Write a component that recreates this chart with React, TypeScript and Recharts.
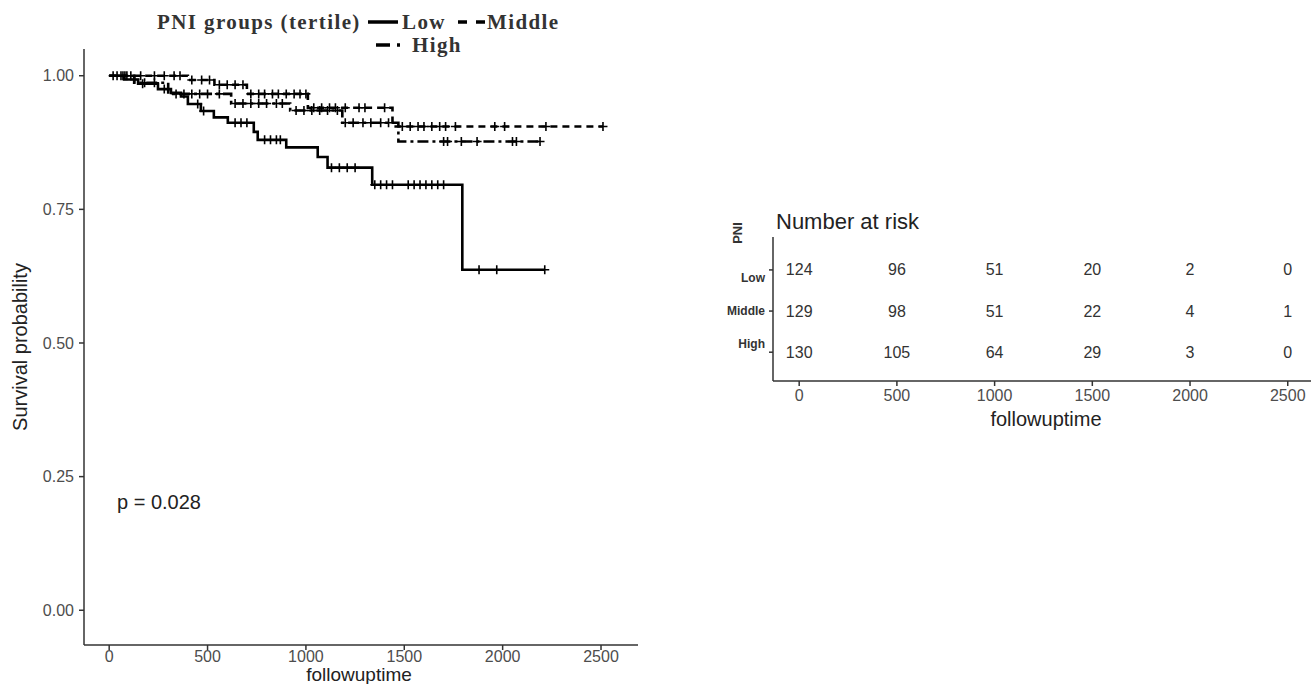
import * as React from "react";
import {ComposedChart, Line, Scatter, ScatterChart, XAxis, YAxis} from "recharts";

// Kaplan-Meier steps (time, survival)
const lowTimes = [0, 76, 147, 248, 314, 365, 400, 466, 532, 603, 735, 755, 900, 1060, 1110, 1337, 1795];
const lowSurv = [1, 0.993, 0.985, 0.975, 0.968, 0.961, 0.947, 0.934, 0.922, 0.912, 0.895, 0.88, 0.866, 0.848, 0.828, 0.796, 0.637];
const lowEnd = 2214;
const lowCensor = [60, 130, 170, 280, 450, 480, 640, 670, 700, 790, 820, 850, 870, 1130, 1170, 1210, 1250, 1350, 1380, 1410, 1440, 1520, 1550, 1580, 1610, 1640, 1670, 1700, 1880, 1970, 2214];

const middleTimes = [0, 400, 535, 700, 1010, 1440];
const middleSurv = [1, 0.992, 0.983, 0.966, 0.94, 0.905];
const middleEnd = 2510;
const middleCensor = [40, 80, 110, 160, 230, 280, 330, 360, 420, 470, 510, 560, 600, 640, 680, 720, 760, 790, 830, 860, 900, 940, 970, 1000, 1040, 1080, 1120, 1150, 1200, 1270, 1300, 1400, 1490, 1530, 1570, 1600, 1640, 1680, 1710, 1760, 1960, 2010, 2220, 2510];

const highTimes = [0, 127, 300, 620, 920, 1185, 1470];
const highSurv = [1, 0.987, 0.966, 0.948, 0.935, 0.912, 0.877];
const highEnd = 2190;
const highCensor = [20, 70, 90, 180, 230, 340, 380, 420, 460, 500, 560, 640, 680, 720, 760, 800, 850, 880, 950, 990, 1030, 1070, 1110, 1160, 1200, 1240, 1290, 1330, 1380, 1420, 1700, 1720, 1790, 1870, 2050, 2070, 2190];

const timeTicks = [0, 500, 1000, 1500, 2000, 2500];
const survTicks = [0, 0.25, 0.5, 0.75, 1];

// number at risk table
const groups = ["Low", "Middle", "High"];
const riskTimes = [0, 500, 1000, 1500, 2000, 2500];
const riskLow = [124, 96, 51, 20, 2, 0];
const riskMiddle = [129, 98, 51, 22, 4, 1];
const riskHigh = [130, 105, 64, 29, 3, 0];

const sans = "'Liberation Sans', Arial, sans-serif";
const serif = "'Liberation Serif', 'Times New Roman', serif";

function curve(times: number[], surv: number[], end: number) {
    const pts = times.map((t, i) => ({t, s: surv[i]}));
    pts.push({t: end, s: surv[surv.length - 1]});
    return pts;
}

function survAt(times: number[], surv: number[], t: number) {
    let s = surv[0];
    times.forEach((tt, i) => { if (tt <= t) s = surv[i]; });
    return s;
}

function marks(times: number[], surv: number[], censor: number[]) {
    return censor.map(t => ({t, s: survAt(times, surv, t)}));
}

const Plus = (props: any) => {
    const {cx, cy} = props;
    return <path d={`M${cx - 4.5},${cy}h9M${cx},${cy - 4.5}v9`} stroke="#000" strokeWidth={1.6} />;
};

const RiskText = (props: any) => {
    const {cx, cy, payload} = props;
    return <text x={cx} y={cy} textAnchor="middle" dominantBaseline="central" fontSize={16} fill="#333" fontFamily={sans}>{payload.n}</text>;
};

const GroupTick = (props: any) => {
    const {x, y, payload} = props;
    const name = groups[3 - payload.value];
    const dy = name === "Low" ? 8 : name === "High" ? -8 : 0;
    return <text x={x} y={y + dy} textAnchor="end" dominantBaseline="central" fontSize={12} fontWeight="bold" fill="#333" fontFamily="'Liberation Sans Narrow', 'Liberation Sans', sans-serif">{name}</text>;
};

export default function App() {
    const riskRows = [riskLow, riskMiddle, riskHigh];
    const riskData = riskRows.flatMap((row, g) => row.map((n, i) => ({t: riskTimes[i], row: 3 - g, n})));
    const axis = {stroke: "#333", strokeWidth: 1.5};
    const tick = {fill: "#4d4d4d", fontSize: 16, fontFamily: sans};

    return (
        <div style={{position: "absolute", left: 0, top: 0, width: 1311, height: 684, background: "#fff", overflow: "hidden"}}>
            <div style={{position: "absolute", left: 0, top: 0}}>
                <ComposedChart width={660} height={684} margin={{top: 49, right: 22, bottom: 0, left: 0}}>
                    <XAxis type="number" dataKey="t" domain={[-128, 2688]} ticks={timeTicks} allowDataOverflow
                           height={39} axisLine={axis} tickLine={axis} tickSize={5} tickMargin={1} tick={tick} />
                    <YAxis type="number" dataKey="s" domain={[-0.065, 1.05]} ticks={survTicks} allowDataOverflow
                           width={84} axisLine={axis} tickLine={axis} tickSize={5} tickMargin={5} tick={tick}
                           tickFormatter={(v: number) => v.toFixed(2)} />
                    <Line data={curve(lowTimes, lowSurv, lowEnd)} dataKey="s" type="stepAfter" stroke="#000" strokeWidth={2.6} dot={false} isAnimationActive={false} />
                    <Line data={curve(middleTimes, middleSurv, middleEnd)} dataKey="s" type="stepAfter" stroke="#000" strokeWidth={2.6} strokeDasharray="7 5" dot={false} isAnimationActive={false} />
                    <Line data={curve(highTimes, highSurv, highEnd)} dataKey="s" type="stepAfter" stroke="#000" strokeWidth={2.6} strokeDasharray="11 4 3 4" dot={false} isAnimationActive={false} />
                    <Scatter data={marks(lowTimes, lowSurv, lowCensor)} dataKey="s" shape={<Plus />} isAnimationActive={false} />
                    <Scatter data={marks(middleTimes, middleSurv, middleCensor)} dataKey="s" shape={<Plus />} isAnimationActive={false} />
                    <Scatter data={marks(highTimes, highSurv, highCensor)} dataKey="s" shape={<Plus />} isAnimationActive={false} />
                </ComposedChart>
            </div>
            <div style={{position: "absolute", left: 700, top: 200}}>
                <ScatterChart width={611} height={230} margin={{top: 37, right: 0, bottom: 9, left: 0}}>
                    <XAxis type="number" dataKey="t" domain={[-134, 2619]} ticks={riskTimes} allowDataOverflow
                           height={40} axisLine={axis} tickLine={axis} tickSize={5} tickMargin={4} tick={tick} />
                    <YAxis type="number" dataKey="row" domain={[0.3, 3.8]} ticks={[1, 2, 3]} allowDataOverflow
                           width={73} axisLine={axis} tickLine={axis} tickSize={4} tickMargin={4} tick={<GroupTick />} />
                    <Scatter data={riskData} shape={<RiskText />} isAnimationActive={false} />
                </ScatterChart>
            </div>
            <svg width={1311} height={684} style={{position: "absolute", left: 0, top: 0, pointerEvents: "none"}}>
                <g fontFamily={serif} fontWeight="bold" fontSize={21} letterSpacing={1.4} fill="#333">
                    <text x={157} y={29}>PNI groups (tertile)</text>
                    <text x={402} y={29}>Low</text>
                    <text x={487} y={29}>Middle</text>
                    <text x={412} y={52}>High</text>
                </g>
                <line x1={368} x2={398} y1={22} y2={22} stroke="#000" strokeWidth={3.5} />
                <line x1={458} x2={485} y1={22} y2={22} stroke="#000" strokeWidth={3.5} strokeDasharray="9 9" />
                <line x1={376} x2={404} y1={45} y2={45} stroke="#000" strokeWidth={3.5} strokeDasharray="14 7 3 9" />
                <text x={117} y={509} fontFamily={sans} fontSize={20} fill="#222">p = 0.028</text>
                <text transform="translate(27,347) rotate(-90)" textAnchor="middle" fontFamily={sans} fontSize={20} fill="#222">Survival probability</text>
                <text x={359} y={681} textAnchor="middle" fontFamily={sans} fontSize={19} fill="#222">followuptime</text>
                <text x={776} y={229} fontFamily={sans} fontSize={22} fill="#222">Number at risk</text>
                <text transform="translate(742,233) rotate(-90)" textAnchor="middle" fontFamily={sans} fontWeight="bold" fontSize={13} fill="#333">PNI</text>
                <text x={1046} y={426} textAnchor="middle" fontFamily={sans} fontSize={20} fill="#222">followuptime</text>
            </svg>
        </div>
    );
}
